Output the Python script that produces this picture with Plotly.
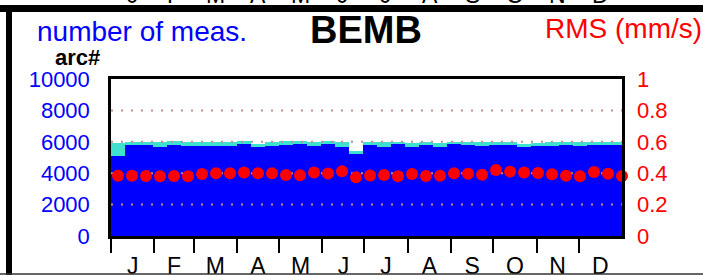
import plotly.graph_objects as go

# ---- data ----
bin_day = [5 + 10 * k for k in range(37)]  # 10-day bins (day of year)
total_meas = [5900, 6000, 6000, 5960, 6040, 5960, 5960, 5990, 5960, 6050,
              5860, 5960, 6050, 6050, 5960, 6050, 5960, 5430, 5960, 5960,
              5960, 5900, 5960, 5900, 5960, 5960, 5990, 5960, 5990, 5830,
              5930, 5960, 6000, 5960, 5990, 5990, 5990]
used_meas = [5115, 5800, 5790, 5690, 5800, 5730, 5740, 5760, 5730, 5840,
             5670, 5760, 5800, 5840, 5730, 5840, 5690, 5220, 5800, 5690,
             5840, 5670, 5800, 5670, 5840, 5800, 5730, 5770, 5800, 5650,
             5730, 5760, 5820, 5730, 5790, 5790, 5800]
rms = [0.384, 0.384, 0.382, 0.380, 0.382, 0.380, 0.395, 0.400, 0.400, 0.404,
       0.400, 0.400, 0.389, 0.387, 0.404, 0.398, 0.412, 0.374, 0.386, 0.389,
       0.380, 0.395, 0.382, 0.384, 0.400, 0.397, 0.390, 0.420, 0.410, 0.404,
       0.402, 0.393, 0.384, 0.380, 0.408, 0.397, 0.382]
month_start = [0, 31, 59, 90, 120, 151, 181, 212, 243, 273, 304, 334]
month_len = [31, 28, 31, 30, 31, 30, 31, 31, 30, 31, 30, 31]
month_labels = ["J", "F", "M", "A", "M", "J", "J", "A", "S", "O", "N", "D"]
left_ticks = [0, 2000, 4000, 6000, 8000, 10000]
left_ticktext = ["0", "2000", "4000", "6000", "8000", "10000"]
right_ticks = [0, 0.2, 0.4, 0.6, 0.8, 1]
right_ticktext = ["0", "0.2", "0.4", "0.6", "0.8", "1"]
grid_vals = [2000, 4000, 6000, 8000]

month_mid = [s + l / 2 for s, l in zip(month_start, month_len)]

FONT = "Liberation Sans, Arial, sans-serif"
W, H = 703, 275
L, R, T, B = 111, 81, 79, 39
PW, PH = W - L - R, H - T - B

def px_x(p):
    return (p - L) / PW

def px_y(p):
    return (H - B - p) / PH

fig = go.Figure()
fig.add_trace(go.Bar(x=bin_day, y=total_meas, width=10, marker=dict(color="#40e0d0", line=dict(width=0))))
fig.add_trace(go.Bar(x=bin_day, y=used_meas, width=10, marker=dict(color="#0000ff", line=dict(width=0))))

gx, gy = [], []
for g in grid_vals:
    gx += [0, 365, None]
    gy += [g, g, None]
fig.add_trace(go.Scatter(x=gx, y=gy, mode="lines",
                         line=dict(color="#bc8f8f", width=2, dash="2px,8px"),
                         hoverinfo="skip"))

fig.add_trace(go.Scatter(x=bin_day, y=rms, yaxis="y2", mode="markers",
                         marker=dict(color="#ff0000", size=12, line=dict(width=0)),
                         cliponaxis=False))

annotations = [
    dict(text="number of meas.", x=px_x(35), y=px_y(31), xanchor="left", yanchor="middle",
         font=dict(size=28, color="#0000ff", family=FONT)),
    dict(text="<b>BEMB</b>", x=px_x(366), y=px_y(30), xanchor="center", yanchor="middle",
         font=dict(size=38, color="black", family=FONT)),
    dict(text="RMS (mm/s)", x=px_x(704), y=px_y(28), xanchor="right", yanchor="middle",
         font=dict(size=28, color="#ff0000", family=FONT)),
    dict(text="<b>arc#</b>", x=px_x(102), y=px_y(57), xanchor="right", yanchor="middle",
         font=dict(size=22, color="black", family=FONT)),
]
# cut-off month labels of the panel above
for m, lab in zip(month_mid, month_labels):
    annotations.append(dict(text=lab, x=m, xref="x", y=px_y(10), yanchor="bottom",
                            xanchor="center", showarrow=False,
                            font=dict(size=23, color="black", family=FONT)))
for a in annotations:
    a.setdefault("xref", "paper")
    a["yref"] = "paper"
    a["showarrow"] = False

shapes = [
    dict(type="line", xref="paper", yref="paper", x0=px_x(0), x1=px_x(W), y0=px_y(8.5), y1=px_y(8.5),
         line=dict(color="black", width=7)),
    dict(type="line", xref="paper", yref="paper", x0=px_x(9), x1=px_x(9), y0=px_y(5), y1=px_y(H),
         line=dict(color="black", width=6)),
    dict(type="line", xref="paper", yref="paper", x0=px_x(0), x1=px_x(W), y0=px_y(274), y1=px_y(274),
         line=dict(color="#333333", width=1.5)),
]

fig.update_layout(
    width=W, height=H, margin=dict(l=L, r=R, t=T, b=B, pad=0, autoexpand=False),
    paper_bgcolor="white", plot_bgcolor="white",
    barmode="overlay", bargap=0, showlegend=False,
    font=dict(family=FONT),
    annotations=annotations, shapes=shapes,
    xaxis=dict(range=[0, 365], showgrid=False, zeroline=False, automargin=False,
               showline=True, mirror=True, linecolor="black", linewidth=2.5,
               tickmode="array", tickvals=month_mid, ticktext=month_labels, ticks="",
               ticklabelstandoff=8,
               tickfont=dict(size=23, color="black", family=FONT),
               minor=dict(tickmode="array", tickvals=month_start, ticks="outside",
                          ticklen=14, tickwidth=2, tickcolor="black", showgrid=False)),
    yaxis=dict(range=[0, 10000], showgrid=False, zeroline=False, automargin=False,
               showline=True, mirror=True, linecolor="black", linewidth=2.5,
               tickmode="array", tickvals=left_ticks, ticktext=left_ticktext, ticks="",
               ticklabelstandoff=14,
               tickfont=dict(size=22, color="#0000ff", family=FONT)),
    yaxis2=dict(range=[0, 1], overlaying="y", side="right", showgrid=False, zeroline=False,
                automargin=False,
                showline=False, tickmode="array", tickvals=right_ticks, ticktext=right_ticktext,
                ticks="", ticklabelstandoff=14,
                tickfont=dict(size=22, color="#ff0000", family=FONT)),
)

fig.write_html("out.html", config={"displayModeBar": False},
               post_script="document.body.style.margin='0';document.body.style.overflow='hidden';")
